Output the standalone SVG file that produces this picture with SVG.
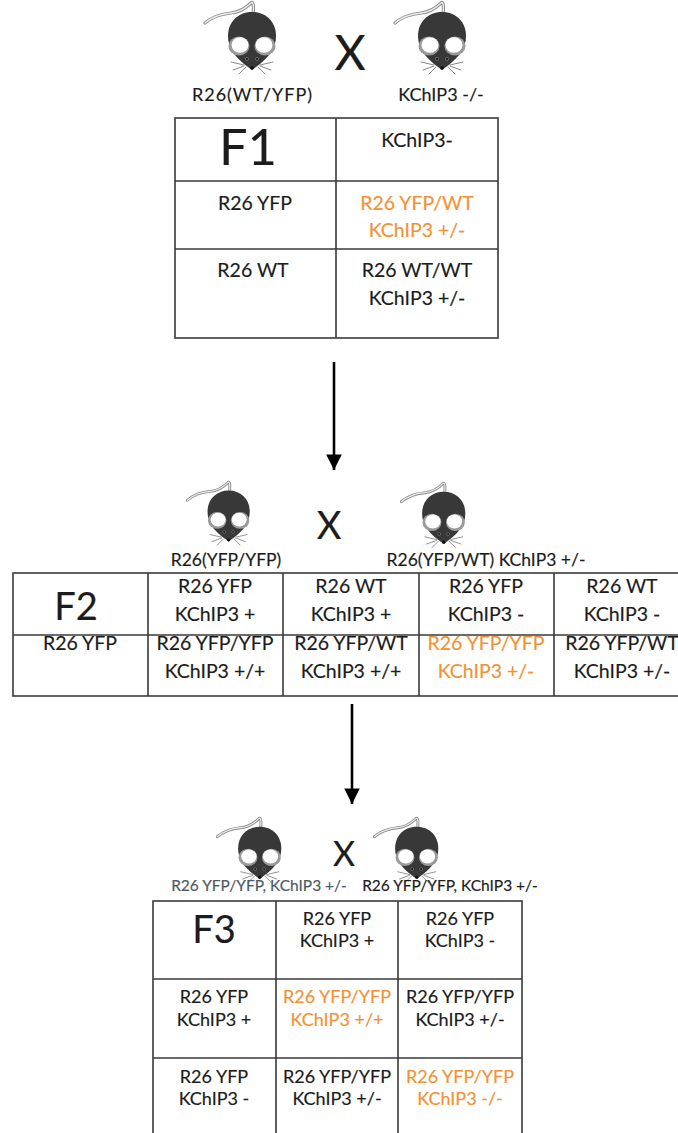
<svg xmlns="http://www.w3.org/2000/svg" xmlns:xlink="http://www.w3.org/1999/xlink" width="678" height="1133" viewBox="0 0 678 1133">
  <style>
    text { font-family: Lato, "Open Sans", "Liberation Sans", sans-serif; fill: #1c1c1c; stroke: #1c1c1c; stroke-width: 0.18; text-anchor: middle; }
    .cell { font-size: 19.5px; }
    .small { font-size: 18px; }
    .lbl { font-size: 18px; }
    .lbl2 { font-size: 17.5px; }
    .lbl3 { font-size: 15.5px; }
    .gen { font-size: 38px; stroke-width: 0.2; }
    .gen1 { font-size: 50px; stroke-width: 0.2; }
    .cross { stroke-width: 0.2; }
    .hi { fill: #f39234; stroke: #f39234; }
    .muted { fill: #4d5b66; stroke: #4d5b66; }
    .grid { fill: none; stroke: #3a3a3a; stroke-width: 1.6; }
    .conn { stroke: #000; stroke-width: 2.6; fill: none; }
  </style>
  <defs>
    <marker id="head" viewBox="0 0 10 10" refX="10" refY="5" markerWidth="6" markerHeight="6" markerUnits="strokeWidth" orient="auto">
      <path d="M0,0 L10,5 L0,10 Z" fill="#000"/>
    </marker>
    <!-- mouse seen from above, head down -->
    <g id="mouse">
      <path d="M6,23 C13,17 22,14 32,13 C42,12 48,7 52,3 C54,1 55,5 54,14" fill="none" stroke="#8a8a8a" stroke-width="3.2" stroke-linecap="round"/>
      <path d="M6,23 C13,17 22,14 32,13 C42,12 48,7 52,3 C54,1 55,5 54,14" fill="none" stroke="#ececec" stroke-width="1.3" stroke-linecap="round"/>
      <path d="M53,12 C67,12 77,22 77,36 C77,49 69,57 61,64 L53,70 L45,64 C37,57 29,49 29,36 C29,22 39,12 53,12 Z" fill="#383838"/>
      <ellipse cx="40" cy="46" rx="10.5" ry="9.5" fill="#9a9a9a"/>
      <ellipse cx="41" cy="45" rx="8.5" ry="7.8" fill="#fff"/>
      <ellipse cx="66" cy="46" rx="10.5" ry="9.5" fill="#9a9a9a"/>
      <ellipse cx="65" cy="45" rx="8.5" ry="7.8" fill="#fff"/>
      <circle cx="48" cy="59" r="1.6" fill="#1a1a1a" stroke="#8a8a8a" stroke-width="0.6"/>
      <circle cx="58" cy="59" r="1.6" fill="#1a1a1a" stroke="#8a8a8a" stroke-width="0.6"/>
      <circle cx="53" cy="68" r="1.8" fill="#111"/>
      <g stroke="#7a7a7a" stroke-width="0.9" stroke-linecap="round">
        <path d="M45,65 L32,62 M45,66 L34,70 M47,67 L40,74"/>
        <path d="M61,65 L74,62 M61,66 L72,70 M59,67 L66,74"/>
      </g>
    </g>
  </defs>

  <!-- parents, first cross -->
  <g id="cross1">
    <use xlink:href="#mouse" href="#mouse" transform="translate(199,0)"/>
    <use xlink:href="#mouse" href="#mouse" transform="translate(389,0)"/>
    <text class="cross" x="350" y="70" font-size="48">X</text>
    <text class="lbl" x="252" y="101" textLength="120" lengthAdjust="spacing">R26(WT/YFP)</text>
    <text class="lbl" x="441" y="101">KChIP3 -/-</text>
  </g>

  <!-- F1 table -->
  <g id="f1">
    <rect class="grid" x="175" y="118" width="323" height="220"/>
    <path class="grid" d="M336,118 V338 M175,181 H498 M175,249 H498"/>
    <text class="gen1" x="248" y="165">F1</text>
    <text class="cell" x="417" y="147">KChIP3-</text>
    <text class="cell" x="255" y="210">R26 YFP</text>
    <text class="cell hi" x="417" y="210">R26 YFP/WT</text>
    <text class="cell hi" x="417" y="237">KChIP3 +/-</text>
    <text class="cell" x="253" y="277">R26 WT</text>
    <text class="cell" x="417" y="277">R26 WT/WT</text>
    <text class="cell" x="417" y="305">KChIP3 +/-</text>
  </g>

  <!-- connectors -->
  <g id="connectors">
    <line class="conn" x1="334" y1="362" x2="334" y2="470" marker-end="url(#head)"/>
    <line class="conn" x1="352" y1="704" x2="352" y2="804" marker-end="url(#head)"/>
  </g>

  <!-- parents, second cross -->
  <g id="cross2">
    <use xlink:href="#mouse" href="#mouse" transform="translate(182,480) scale(0.88)"/>
    <use xlink:href="#mouse" href="#mouse" transform="translate(396,481) scale(0.9)"/>
    <text class="cross" x="329" y="539" font-size="38">X</text>
    <text class="lbl2" x="226" y="566">R26(YFP/YFP)</text>
    <text class="lbl2" x="486" y="566">R26(YFP/WT) KChIP3 +/-</text>
  </g>

  <!-- F2 table -->
  <g id="f2">
    <rect class="grid" x="13" y="573" width="676" height="123"/>
    <path class="grid" d="M148,573 V696 M283,573 V696 M419,573 V696 M554,573 V696 M13,635 H689"/>
    <text class="gen" x="76" y="620">F2</text>
    <text class="cell" x="215" y="593">R26 YFP</text>
    <text class="cell" x="215" y="621">KChIP3 +</text>
    <text class="cell" x="351" y="593">R26 WT</text>
    <text class="cell" x="351" y="621">KChIP3 +</text>
    <text class="cell" x="486" y="593">R26 YFP</text>
    <text class="cell" x="486" y="621">KChIP3 -</text>
    <text class="cell" x="622" y="593">R26 WT</text>
    <text class="cell" x="622" y="621">KChIP3 -</text>
    <text class="cell" x="80" y="650">R26 YFP</text>
    <text class="cell" x="215" y="650">R26 YFP/YFP</text>
    <text class="cell" x="215" y="678">KChIP3 +/+</text>
    <text class="cell" x="351" y="650">R26 YFP/WT</text>
    <text class="cell" x="351" y="678">KChIP3 +/+</text>
    <text class="cell hi" x="486" y="650">R26 YFP/YFP</text>
    <text class="cell hi" x="486" y="678">KChIP3 +/-</text>
    <text class="cell" x="622" y="650">R26 YFP/WT</text>
    <text class="cell" x="622" y="678">KChIP3 +/-</text>
  </g>

  <!-- parents, third cross -->
  <g id="cross3">
    <use xlink:href="#mouse" href="#mouse" transform="translate(212,816) scale(0.9)"/>
    <use xlink:href="#mouse" href="#mouse" transform="translate(369,816) scale(0.9)"/>
    <text class="cross" x="344" y="866" font-size="34">X</text>
    <text class="lbl3 muted" x="259" y="891">R26 YFP/YFP, KChIP3 +/-</text>
    <text class="lbl3" x="450" y="891">R26 YFP/YFP, KChIP3 +/-</text>
  </g>

  <!-- F3 table -->
  <g id="f3">
    <rect class="grid" x="153" y="901" width="369" height="240"/>
    <path class="grid" d="M276,901 V1141 M398,901 V1141 M153,979 H522 M153,1058 H522"/>
    <text class="gen" x="214" y="943">F3</text>
    <text class="small" x="337" y="925">R26 YFP</text>
    <text class="small" x="337" y="947">KChIP3 +</text>
    <text class="small" x="460" y="925">R26 YFP</text>
    <text class="small" x="460" y="947">KChIP3 -</text>
    <text class="small" x="214" y="1003">R26 YFP</text>
    <text class="small" x="214" y="1026">KChIP3 +</text>
    <text class="small hi" x="337" y="1003">R26 YFP/YFP</text>
    <text class="small hi" x="337" y="1026">KChIP3 +/+</text>
    <text class="small" x="460" y="1003">R26 YFP/YFP</text>
    <text class="small" x="460" y="1026">KChIP3 +/-</text>
    <text class="small" x="214" y="1083">R26 YFP</text>
    <text class="small" x="214" y="1105">KChIP3 -</text>
    <text class="small" x="337" y="1083">R26 YFP/YFP</text>
    <text class="small" x="337" y="1105">KChIP3 +/-</text>
    <text class="small hi" x="460" y="1083">R26 YFP/YFP</text>
    <text class="small hi" x="460" y="1105">KChIP3 -/-</text>
  </g>
</svg>
